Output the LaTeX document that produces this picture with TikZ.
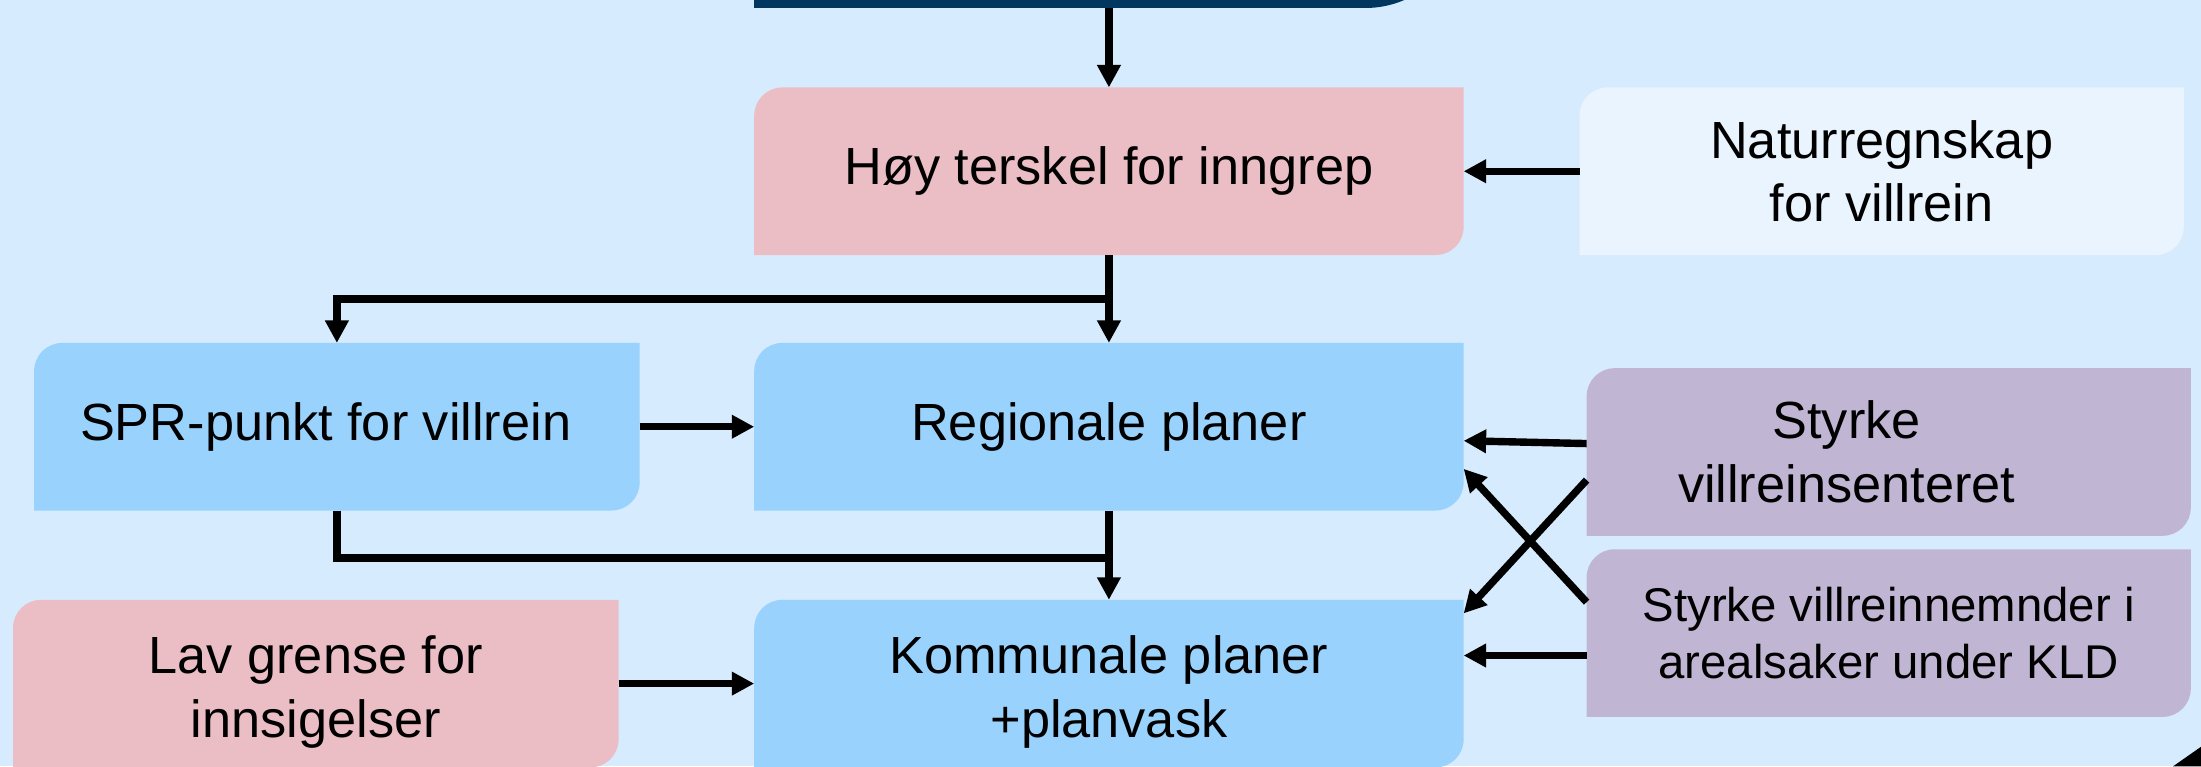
\documentclass[tikz,border=0pt]{standalone}
\usepackage{fontspec}
\setmainfont{Liberation Sans}
\usepackage{tikz}
\usetikzlibrary{positioning, arrows.meta, calc, backgrounds}

\definecolor{bgblue}{RGB}{214,235,253}
\definecolor{navy}{RGB}{0,54,96}
\definecolor{planblue}{RGB}{153,210,253}
\definecolor{rosa}{RGB}{234,190,196}
\definecolor{lilla}{RGB}{192,182,211}
\definecolor{paleblue}{RGB}{234,244,254}

% fill behind a box: rounded top left and bottom right corner
\newcommand{\boxfill}[3][0.2]{%
  \fill[#3] (#2.south west) -- ([yshift=-#1cm]#2.north west)
    arc[start angle=180, end angle=90, radius=#1cm] -- (#2.north east)
    -- ([yshift=#1cm]#2.south east)
    arc[start angle=0, end angle=-90, radius=#1cm] -- cycle;}

\begin{document}
\begin{tikzpicture}[
    box/.style={minimum width=5.04cm, minimum height=1.18cm, inner sep=0pt, align=center,
                font=\fontsize{10.6}{12.9}\selectfont},
    smallbox/.style={box, minimum width=4.3cm},
    arrow/.style={-{Triangle[length=1.6mm, width=1.6mm]}, line width=1.5pt},
    link/.style={line width=1.5pt}]

    \useasboundingbox (0,0) rectangle (15.68,-5.46);

    % Boxes
    \node[box] (top) at (7.90, 0.54) {};
    \node[box] (hoy) at (7.90, -1.22) {Høy terskel for inngrep};
    \node[smallbox, minimum width=4.29cm] (natur) at (13.405, -1.22) {Naturregnskap\\for villrein};
    \node[smallbox] (spr) at (2.40, -3.04) {SPR-punkt for villrein\hspace*{0.16cm}};
    \node[box] (regional) at (7.90, -3.04) {Regionale planer};
    \node[smallbox] (lav) at (2.25, -4.87) {\\[-0.06cm]Lav grense for\\innsigelser};
    \node[box] (kommunal) at (7.90, -4.87) {\\[-0.06cm]Kommunale planer\\+planvask};
    \node[smallbox, minimum width=4.29cm] (senter) at (13.455, -3.22)
        {Styrke\hspace*{0.6cm}\\villreinsenteret\hspace*{0.6cm}};
    \node[smallbox, minimum width=4.29cm, font=\fontsize{9.6}{11.4}\selectfont] (nemnd) at (13.455, -4.51)
        {Styrke villreinnemnder i\\arealsaker under KLD};

    % Box fills
    \begin{scope}[on background layer]
        \fill[bgblue] (0,0) rectangle (15.68,-5.46);
        \boxfill[0.7]{top}{navy}
        \boxfill{hoy}{rosa}
        \boxfill{natur}{paleblue}
        \boxfill{spr}{planblue}
        \boxfill{regional}{planblue}
        \boxfill{lav}{rosa}
        \boxfill{kommunal}{planblue}
        \boxfill{senter}{lilla}
        \boxfill{nemnd}{lilla}
    \end{scope}

    % Connectors
    \draw[arrow] (top) -- (hoy);
    \draw[arrow] (natur) -- (hoy);
    \draw[arrow] (hoy) -- (regional);
    \coordinate (split) at ($(hoy.south)!0.5!(regional.north)$);
    \draw[arrow] (split) -| (spr.north);
    \draw[arrow] (spr) -- (regional);
    \draw[arrow] (regional) -- (kommunal);
    \coordinate (join) at ($(regional.south)!0.53!(kommunal.north)$);
    \draw[link] (spr.south) |- (join);
    \draw[arrow] (lav) -- (kommunal);

    \draw[arrow] ([yshift=0.06cm]senter.west) -- ([yshift=-0.10cm]regional.east);
    \draw[arrow] ([yshift=-0.20cm]senter.west) -- ([yshift=0.50cm]kommunal.east);
    \draw[arrow] ([yshift=0.22cm]nemnd.west) -- ([yshift=-0.30cm]regional.east);
    \draw[arrow] ([yshift=-0.16cm]nemnd.west) -- ([yshift=0.20cm]kommunal.east);

    % corner of the next box
    \fill[black] (15.48,-5.46) -- (15.68,-5.32) -- (15.68,-5.46) -- cycle;

\end{tikzpicture}
\end{document}
